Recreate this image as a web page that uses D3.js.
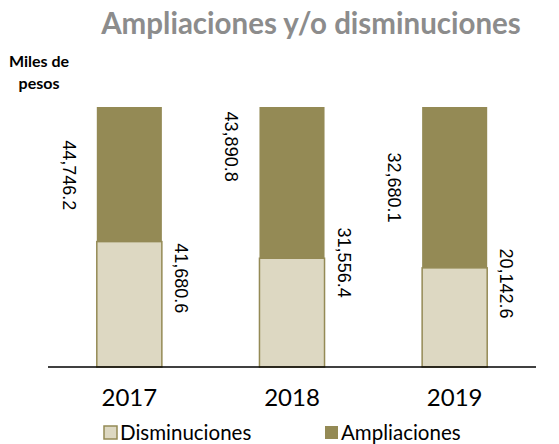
<!DOCTYPE html>
<html>
<head>
<meta charset="utf-8">
<script src="https://cdn.jsdelivr.net/npm/d3@7"></script>
<style>
    body { margin: 0; background: #fff; }
    svg { display: block; }
</style>
</head>
<body>
<div id="chart"></div>
<script>
// Chart data
const years = ["2017", "2018", "2019"];
const disminuciones = [41680.6, 31556.4, 20142.6];
const ampliaciones = [44746.2, 43890.8, 32680.1];
const seriesNames = ["Disminuciones", "Ampliaciones"];

// Manual nudges of the value labels (px, from segment middle), as in the original
const amplNudge = [1, -36, 0];
const disNudge = [-26, -50, -34];

const colors = { Disminuciones: "#ddd8c2", Ampliaciones: "#948a55" };
const fmt = d3.format(",.1f");

const width = 559, height = 444;
const svg = d3.select("#chart").append("svg")
    .attr("width", width)
    .attr("height", height);

// Scales
const x = d3.scaleBand()
    .domain(years)
    .range([48, 536])
    .paddingInner(0.6)
    .paddingOuter(0.3);

const y = d3.scaleLinear()
    .domain([0, 1])
    .range([367, 107]);

// 100% stacked data
const rows = years.map((yr, i) => {
    const total = disminuciones[i] + ampliaciones[i];
    return { year: yr, Disminuciones: disminuciones[i] / total, Ampliaciones: ampliaciones[i] / total, i };
});
const stack = d3.stack().keys(seriesNames)(rows);

// Title
svg.append("text")
    .attr("x", 311)
    .attr("y", 34)
    .attr("text-anchor", "middle")
    .style("font-family", "Lato")
    .style("font-weight", "bold")
    .style("font-size", "29.5px")
    .style("fill", "#8c8c8c")
    .text("Ampliaciones y/o disminuciones");

// Units label
const unit = svg.append("text")
    .attr("text-anchor", "middle")
    .style("font-family", "Lato")
    .style("font-weight", "bold")
    .style("font-size", "16px")
    .style("fill", "#000");
unit.append("tspan").attr("x", 39).attr("y", 67).text("Miles de");
unit.append("tspan").attr("x", 39).attr("y", 89).text("pesos");

// Bars
svg.append("g")
    .selectAll("g")
    .data(stack)
    .join("g")
    .selectAll("rect")
    .data(d => d.map(s => ({ key: d.key, s })))
    .join("rect")
    .attr("x", d => x(d.s.data.year))
    .attr("y", d => y(d.s[1]))
    .attr("width", x.bandwidth())
    .attr("height", d => y(d.s[0]) - y(d.s[1]))
    .attr("fill", d => colors[d.key])
    .attr("stroke", d => d.key === "Disminuciones" ? "#948a55" : "none")
    .attr("stroke-width", 1.5);

// Baseline
svg.append("line")
    .attr("x1", x.range()[0])
    .attr("x2", x.range()[1])
    .attr("y1", y(0))
    .attr("y2", y(0))
    .attr("stroke", "#000")
    .attr("stroke-width", 1.5);

// Value labels, rotated 90deg
const labelStyle = sel => sel
    .attr("text-anchor", "middle")
    .attr("dominant-baseline", "central")
    .style("font-family", "Liberation Sans, Arial, sans-serif")
    .style("font-size", "18px")
    .style("fill", "#000");

rows.forEach((r, i) => {
    const ampMid = (y(1) + y(r.Disminuciones)) / 2 + amplNudge[i];
    const lx = x(r.year) - 28;
    svg.append("text")
        .call(labelStyle)
        .attr("transform", `translate(${lx},${ampMid}) rotate(90)`)
        .text(fmt(ampliaciones[i]));

    const disMid = (y(r.Disminuciones) + y(0)) / 2 + disNudge[i];
    const rx = x(r.year) + x.bandwidth() + 19;
    svg.append("text")
        .call(labelStyle)
        .attr("transform", `translate(${rx},${disMid}) rotate(90)`)
        .text(fmt(disminuciones[i]));
});

// Year labels
svg.append("g")
    .selectAll("text")
    .data(years)
    .join("text")
    .attr("x", d => x(d) + x.bandwidth() / 2)
    .attr("y", 406)
    .attr("text-anchor", "middle")
    .style("font-family", "Lato")
    .style("font-size", "24px")
    .style("fill", "#000")
    .text(d => d);

// Legend
const legendX = [104, 325];
const legend = svg.append("g")
    .selectAll("g")
    .data(seriesNames)
    .join("g")
    .attr("transform", (d, i) => `translate(${legendX[i]},426)`);

legend.append("rect")
    .attr("width", 13)
    .attr("height", 13)
    .attr("fill", d => colors[d])
    .attr("stroke", d => d === "Disminuciones" ? "#948a55" : "none")
    .attr("stroke-width", 1.5);

legend.append("text")
    .attr("x", 16)
    .attr("y", 13.5)
    .style("font-family", "Lato")
    .style("font-size", "20.5px")
    .style("fill", "#000")
    .text(d => d);
</script>
</body>
</html>
